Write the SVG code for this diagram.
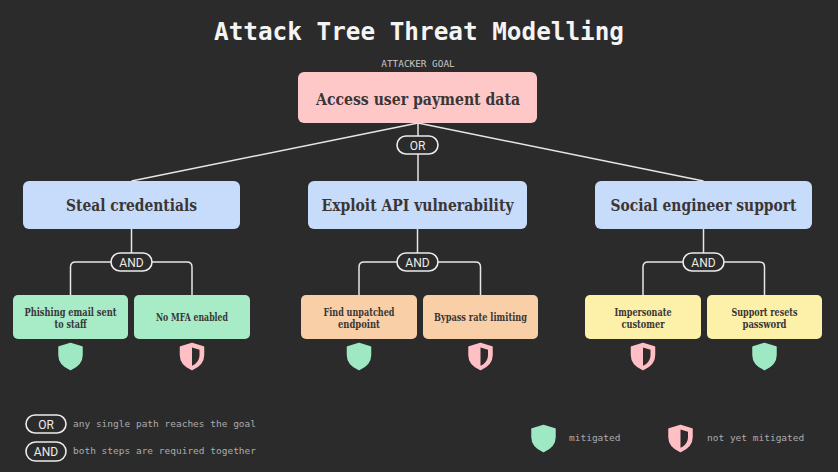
<svg xmlns="http://www.w3.org/2000/svg" width="838" height="472" viewBox="0 0 838 472">
<style>
.bg{fill:#2b2b2b}
.title{font-family:"DejaVu Sans Mono","Liberation Mono",monospace;font-weight:bold;font-size:24px;fill:#f4f4f4}
.cap{font-family:"DejaVu Sans Mono","Liberation Mono",monospace;font-size:9.4px;fill:#c8c8c8}
.leg{font-family:"DejaVu Sans Mono","Liberation Mono",monospace;font-size:9.5px;fill:#ababab}
.n1{font-family:"Roboto Slab","DejaVu Serif",serif;font-weight:bold;font-size:17px;fill:#3a3636}
.n3{font-family:"Roboto Slab","DejaVu Serif",serif;font-weight:bold;font-size:11px;fill:#3a3636}
.pill{fill:#2b2b2b;stroke:#ececec;stroke-width:1.6}
.pt{font-family:Roboto,"Liberation Sans",sans-serif;font-size:12px;fill:#ececec}
.ln{fill:none;stroke:#e6e6e6;stroke-width:1.5}
.goal{fill:#ffc8c8}
.blue{fill:#c7dbfa}
.green{fill:#a7ebc7}
.peach{fill:#f9cfa7}
.yellow{fill:#fdf0a8}
</style>
<defs>
<symbol id="shOk" viewBox="-13 -14 26 29" overflow="visible">
<path d="M0,-12.5 L11.5,-9 L11.5,-1 C11.5,6 6,11 0,13.5 C-6,11 -11.5,6 -11.5,-1 L-11.5,-9 Z" fill="#9fe8c4" stroke="#9fe8c4" stroke-width="1.5" stroke-linejoin="round"/>
</symbol>
<symbol id="shNo" viewBox="-13 -14 26 29" overflow="visible">
<path d="M0,-12.5 L11.5,-9 L11.5,-1 C11.5,6 6,11 0,13.5 C-6,11 -11.5,6 -11.5,-1 L-11.5,-9 Z" fill="#ffbfc5" stroke="#ffbfc5" stroke-width="1.5" stroke-linejoin="round"/>
<path d="M0,-8.5 L7.5,-6.2 L7.5,-1 C7.5,4.5 4,8 0,9.8 Z" fill="#2b2b2b"/>
</symbol>
</defs>
<rect class="bg" x="0" y="0" width="838" height="472"/>
<text class="title" x="419" y="40" text-anchor="middle" textLength="410" lengthAdjust="spacingAndGlyphs">Attack Tree Threat Modelling</text>

<g id="connectors">
<line class="ln" x1="418" y1="123" x2="131.5" y2="181"/>
<line class="ln" x1="418" y1="123" x2="703.5" y2="181"/>
<line class="ln" x1="418" y1="123" x2="418" y2="181"/>
<line class="ln" x1="131.5" y1="229" x2="131.5" y2="253"/>
<path class="ln" d="M111,262 H75.5 Q70.5,262 70.5,267 V295"/>
<path class="ln" d="M152,262 H187 Q192,262 192,267 V295"/>
<line class="ln" x1="417.5" y1="229" x2="417.5" y2="253"/>
<path class="ln" d="M397,262 H364 Q359,262 359,267 V295"/>
<path class="ln" d="M438,262 H475.5 Q480.5,262 480.5,267 V295"/>
<line class="ln" x1="703.5" y1="229" x2="703.5" y2="253"/>
<path class="ln" d="M683,262 H648 Q643,262 643,267 V295"/>
<path class="ln" d="M724,262 H759.5 Q764.5,262 764.5,267 V295"/>
</g>

<g id="op-or">
<rect class="pill" x="397" y="136" width="41" height="18" rx="9"/>
<text class="pt" x="417.5" y="150" text-anchor="middle">OR</text>
</g>
<g id="op-and-1">
<rect class="pill" x="111" y="253" width="41" height="18" rx="9"/>
<text class="pt" x="131.5" y="267" text-anchor="middle">AND</text>
</g>
<g id="op-and-2">
<rect class="pill" x="397" y="253" width="41" height="18" rx="9"/>
<text class="pt" x="417.5" y="267" text-anchor="middle">AND</text>
</g>
<g id="op-and-3">
<rect class="pill" x="683" y="253" width="41" height="18" rx="9"/>
<text class="pt" x="703.5" y="267" text-anchor="middle">AND</text>
</g>

<g id="goal">
<text class="cap" x="418" y="67" text-anchor="middle">ATTACKER GOAL</text>
<rect class="goal" x="298" y="72" width="239" height="51" rx="6"/>
<text class="n1" x="418" y="104.5" text-anchor="middle" textLength="204" lengthAdjust="spacingAndGlyphs">Access user payment data</text>
</g>

<g id="steal-credentials">
<rect class="blue" x="23" y="181" width="217" height="48" rx="6"/>
<text class="n1" x="131.5" y="211" text-anchor="middle" textLength="131" lengthAdjust="spacingAndGlyphs">Steal credentials</text>
</g>
<g id="exploit-api">
<rect class="blue" x="308" y="181" width="219" height="48" rx="6"/>
<text class="n1" x="417.5" y="211" text-anchor="middle" textLength="192" lengthAdjust="spacingAndGlyphs">Exploit API vulnerability</text>
</g>
<g id="social-engineer">
<rect class="blue" x="595" y="181" width="217" height="48" rx="6"/>
<text class="n1" x="703.5" y="211" text-anchor="middle" textLength="186" lengthAdjust="spacingAndGlyphs">Social engineer support</text>
</g>

<g id="phishing">
<rect class="green" x="13" y="295" width="115" height="44" rx="5"/>
<text class="n3" x="70.5" y="316" text-anchor="middle" textLength="92" lengthAdjust="spacingAndGlyphs">Phishing email sent</text>
<text class="n3" x="70.5" y="328" text-anchor="middle" textLength="32" lengthAdjust="spacingAndGlyphs">to staff</text>
<use href="#shOk" x="57.5" y="342" width="26" height="29"/>
</g>
<g id="no-mfa">
<rect class="green" x="134" y="295" width="116" height="44" rx="5"/>
<text class="n3" x="192" y="321" text-anchor="middle" textLength="72" lengthAdjust="spacingAndGlyphs">No MFA enabled</text>
<use href="#shNo" x="179" y="342" width="26" height="29"/>
</g>
<g id="find-endpoint">
<rect class="peach" x="301" y="295" width="116" height="44" rx="5"/>
<text class="n3" x="359" y="316" text-anchor="middle" textLength="71" lengthAdjust="spacingAndGlyphs">Find unpatched</text>
<text class="n3" x="359" y="328" text-anchor="middle" textLength="42" lengthAdjust="spacingAndGlyphs">endpoint</text>
<use href="#shOk" x="346" y="342" width="26" height="29"/>
</g>
<g id="bypass-rate">
<rect class="peach" x="423" y="295" width="115" height="44" rx="5"/>
<text class="n3" x="480.5" y="321" text-anchor="middle" textLength="93" lengthAdjust="spacingAndGlyphs">Bypass rate limiting</text>
<use href="#shNo" x="467.5" y="342" width="26" height="29"/>
</g>
<g id="impersonate">
<rect class="yellow" x="585" y="295" width="116" height="44" rx="5"/>
<text class="n3" x="643" y="316" text-anchor="middle" textLength="57" lengthAdjust="spacingAndGlyphs">Impersonate</text>
<text class="n3" x="643" y="328" text-anchor="middle" textLength="43" lengthAdjust="spacingAndGlyphs">customer</text>
<use href="#shNo" x="630" y="342" width="26" height="29"/>
</g>
<g id="support-resets">
<rect class="yellow" x="707" y="295" width="115" height="44" rx="5"/>
<text class="n3" x="764.5" y="316" text-anchor="middle" textLength="66" lengthAdjust="spacingAndGlyphs">Support resets</text>
<text class="n3" x="764.5" y="328" text-anchor="middle" textLength="44" lengthAdjust="spacingAndGlyphs">password</text>
<use href="#shOk" x="751.5" y="342" width="26" height="29"/>
</g>

<g id="legend">
<rect class="pill" x="26" y="415" width="40" height="18" rx="9"/>
<text class="pt" x="46" y="428.5" text-anchor="middle">OR</text>
<text class="leg" x="73" y="427">any single path reaches the goal</text>
<rect class="pill" x="26" y="442" width="40" height="19" rx="9.5"/>
<text class="pt" x="46" y="456" text-anchor="middle">AND</text>
<text class="leg" x="73" y="454">both steps are required together</text>
<use href="#shOk" x="530.5" y="424" width="26" height="29"/>
<text class="leg" x="569" y="441">mitigated</text>
<use href="#shNo" x="667.5" y="424" width="26" height="29"/>
<text class="leg" x="707" y="441">not yet mitigated</text>
</g>
</svg>
